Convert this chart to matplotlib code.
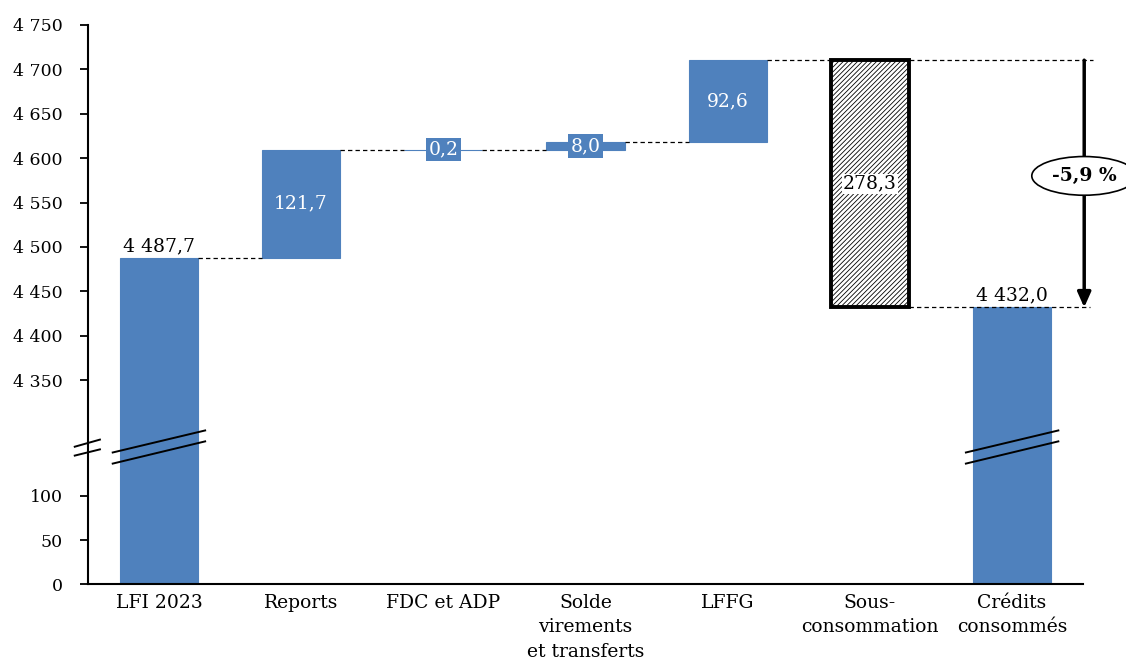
import matplotlib.pyplot as plt
import numpy as np

plt.rcParams['font.family'] = ['DejaVu Serif']
plt.rcParams['hatch.linewidth'] = 0.6

# Données
categories = ['LFI 2023', 'Reports', 'FDC et ADP', 'Solde\nvirements\net transferts',
              'LFFG', 'Sous-\nconsommation', 'Crédits\nconsommés']
lfi = 4487.7
variations = [121.7, 0.2, 8.0, 92.6]
sous_conso = 278.3
credits = 4432.0
evolution = '-5,9 %'
yticks_bas = [0, 50, 100]
yticks_haut = [4350, 4400, 4450, 4500, 4550, 4600, 4650, 4700, 4750]

def fr(v, d=1):
    s = f'{v:,.{d}f}'
    return s.replace(',', ' ').replace('.', ',')

# Axe coupé : les valeurs hautes sont décalées
OFFSET = 4120.2
def tr(v):
    return v - OFFSET if v > 200 else v

bleu = '#4F81BD'
w = 0.55

fig = plt.figure(figsize=(11.26, 6.71), dpi=100)
ax = fig.add_axes([0.078, 0.129, 0.884, 0.834])

# Barres
x = np.arange(len(categories))
ax.bar(0, tr(lfi), width=w, color=bleu, edgecolor=bleu, lw=0.8)
niveaux = [lfi]
for i, v in enumerate(variations):
    bas = niveaux[-1]
    haut = bas + v
    niveaux.append(haut)
    ax.bar(i + 1, tr(haut) - tr(bas), bottom=tr(bas), width=w,
           color=bleu, edgecolor=bleu, lw=0.8)
sommet = niveaux[-1]
ax.bar(5, tr(sommet) - tr(credits), bottom=tr(credits), width=w,
       facecolor='white', edgecolor='black', lw=2.8, hatch='///////')
ax.bar(6, tr(credits), width=w, color=bleu, edgecolor=bleu, lw=0.8)

# Lignes de liaison
dash = dict(color='black', lw=0.9, ls=(0, (3.5, 2.5)))
for i, lvl in enumerate(niveaux[:-1]):
    ax.plot([i + w / 2, i + 1 - w / 2], [tr(lvl), tr(lvl)], **dash)
ax.plot([4 + w / 2, 6.57], [tr(sommet)] * 2, clip_on=False, **dash)
ax.plot([5 + w / 2, 6.55], [tr(credits)] * 2, clip_on=False, **dash)

# Étiquettes
fs = 13.5
ax.text(0, tr(lfi) + 3, fr(lfi), ha='center', va='bottom', fontsize=fs)
ax.text(6, tr(credits) + 3, fr(credits), ha='center', va='bottom', fontsize=fs)
bas = lfi
for i, v in enumerate(variations):
    mid = tr(bas + v / 2)
    bbox = None
    if abs(v) < 20:
        bbox = dict(boxstyle='square,pad=0.15', fc=bleu, ec='none')
    ax.text(i + 1, mid, fr(v), ha='center', va='center', fontsize=fs,
            color='white', bbox=bbox)
    bas += v
ax.text(5, tr(sommet - sous_conso / 2), fr(sous_conso), ha='center', va='center',
        fontsize=fs, bbox=dict(boxstyle='square,pad=0.05', fc='white', ec='none'))

# Flèche et évolution
ax.annotate('', xy=(6.507, tr(credits)), xytext=(6.507, tr(sommet)),
            arrowprops=dict(arrowstyle='-|>,head_width=0.4,head_length=0.9',
                            color='black', lw=2.5, shrinkA=0, shrinkB=0),
            annotation_clip=False)
ax.text(6.507, tr(4580), evolution, ha='center', va='center', fontsize=fs,
        fontweight='bold', clip_on=False,
        bbox=dict(boxstyle='ellipse,pad=0.25', fc='white', ec='black', lw=1.2))

# Marques de coupure
for y0, y1 in [(148.5, 173.3), (136, 161)]:
    for c in (0, 6):
        ax.plot([c - 0.325, c + 0.325], [y0, y1], color='black', lw=1.4)
for y0, y1 in [(155, 163), (145, 152)]:
    ax.plot([-0.592, -0.415], [y0, y1], color='black', lw=1.4, clip_on=False)

# Axes
ax.set_xlim(-0.5, 6.5)
ax.set_ylim(0, tr(4750))
ax.set_xticks(x)
ax.set_xticklabels(categories, fontsize=fs, linespacing=1.45)
ax.tick_params(axis='x', length=0, pad=7)
ax.set_yticks(yticks_bas + [tr(v) for v in yticks_haut])
ax.set_yticklabels([fr(v, 0) for v in yticks_bas + yticks_haut], fontsize=12.5)
ax.tick_params(axis='y', length=6, width=1.3, pad=12)
for s in ['top', 'right']:
    ax.spines[s].set_visible(False)
for s in ['left', 'bottom']:
    ax.spines[s].set_linewidth(1.5)

plt.savefig('out.png', dpi=100)
